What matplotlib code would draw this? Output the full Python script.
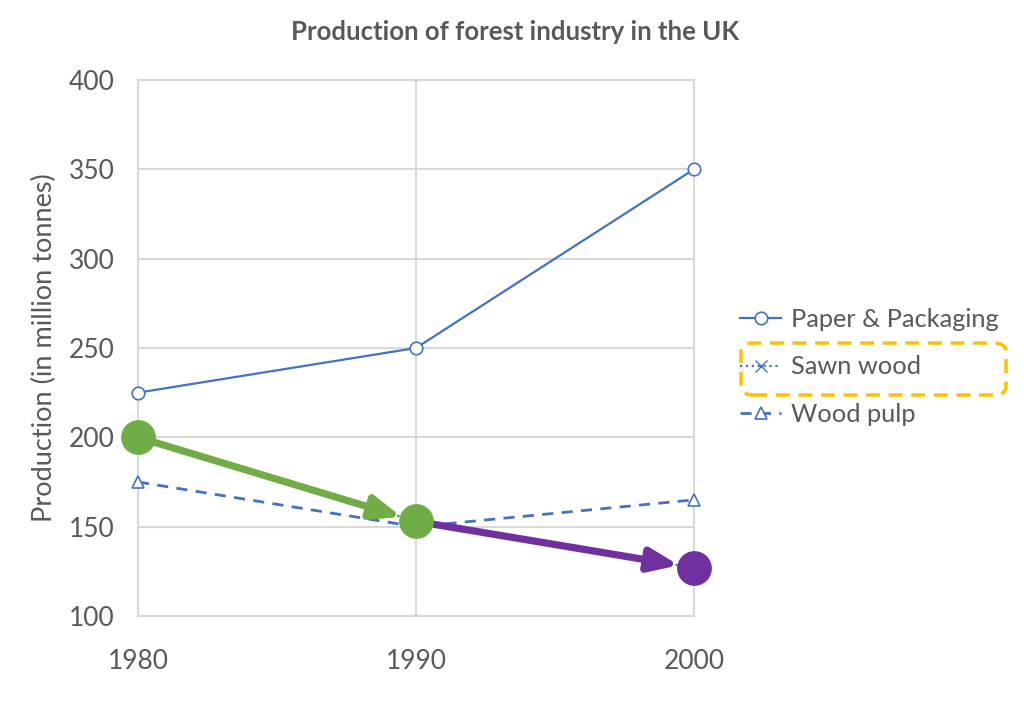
import matplotlib
matplotlib.use("Agg")
import matplotlib.pyplot as plt
from matplotlib.patches import FancyBboxPatch

years = [1980, 1990, 2000]
paper_packaging = [225, 250, 350]
sawn_wood = [200, 153, 127]
wood_pulp = [175, 150, 165]
yticks = [100, 150, 200, 250, 300, 350, 400]

plt.rcParams['font.family'] = ['Lato', 'DejaVu Sans']
TXT = '#595959'
BLUE = '#4472C4'
GREEN = '#70AD47'
PURPLE = '#7030A0'
GRID = '#D9D9D9'

fig = plt.figure(figsize=(10.24, 7.04), dpi=100)
ax = fig.add_axes([0.1348, 0.125, 0.5429, 0.7614])

ax.plot(years, paper_packaging, color=BLUE, lw=1.6, marker='o', ms=9,
        mfc='white', mec=BLUE, mew=1.2, label='Paper & Packaging', zorder=3,
        clip_on=False)
ax.plot(years, sawn_wood, color=BLUE, lw=1.6, ls=':', marker='x', ms=8,
        mec=BLUE, label='Sawn wood', zorder=2, clip_on=False)
ax.plot(years, wood_pulp, color=BLUE, lw=2.0, ls=(0, (4, 3)), marker='^', ms=9,
        mfc='white', mec=BLUE, mew=1.2, label='Wood pulp', zorder=3,
        clip_on=False)

# highlighted arrows over the sawn wood series
for i, col in ((0, GREEN), (1, PURPLE)):
    ax.annotate('', xy=(years[i + 1], sawn_wood[i + 1]),
                xytext=(years[i], sawn_wood[i]),
                arrowprops=dict(arrowstyle='-|>,head_length=1.25,head_width=0.5',
                                color=col, lw=5.2, shrinkA=0, shrinkB=11,
                                mutation_scale=14),
                zorder=5, annotation_clip=False)
ax.plot(years[0:2], sawn_wood[0:2], ls='none', marker='o', ms=24,
        color=GREEN, zorder=6, clip_on=False)
ax.plot(years[2:3], sawn_wood[2:3], ls='none', marker='o', ms=24,
        color=PURPLE, zorder=6, clip_on=False)

ax.set_xlim(1980, 2000)
ax.set_ylim(100, 400)
ax.set_xticks(years)
ax.set_yticks(yticks)
ax.grid(True, color=GRID, lw=1.5)
ax.set_axisbelow(True)
for s in ax.spines.values():
    s.set_color(GRID)
    s.set_linewidth(1.5)
ax.tick_params(length=0, labelsize=19, colors=TXT)
ax.tick_params(axis='y', pad=17)
ax.tick_params(axis='x', pad=24)
for lab in ax.get_xticklabels() + ax.get_yticklabels():
    lab.set_color(TXT)

ax.set_ylabel('Production (in million tonnes)', fontsize=19.5, color=TXT,
              labelpad=8)
fig.text(0.503, 0.9545, 'Production of forest industry in the UK', ha='center',
         va='center', fontsize=18.5, fontweight='bold', color=TXT)

leg = ax.legend(loc='center left', bbox_to_anchor=(1.065, 0.4646), frameon=False,
                fontsize=18.3, labelcolor=TXT, handlelength=1.6, handletextpad=0.4,
                labelspacing=0.95, borderaxespad=0)

box = FancyBboxPatch((741 / 1024, 1 - 395 / 704), 265 / 1024, 52 / 704,
                     boxstyle='round,pad=0,rounding_size=0.012',
                     transform=fig.transFigure, fill=False, ec='#FFC000',
                     lw=2.5, ls=(0, (4, 2.5)))
fig.patches.append(box)

fig.savefig('out.png', dpi=100, facecolor='white')
